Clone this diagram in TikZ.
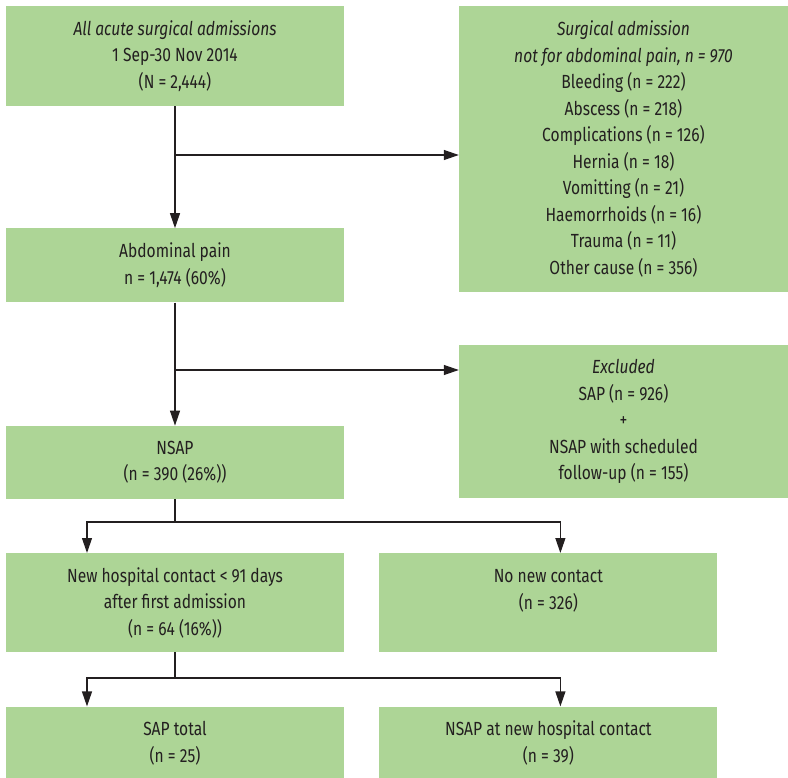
\documentclass[tikz,border=0pt]{standalone}
\usepackage{fontspec}
\setmainfont{Fira Sans}[FakeStretch=0.82]
\usetikzlibrary{positioning,arrows.meta}
\definecolor{boxgreen}{RGB}{173,213,150}
\definecolor{inkgray}{RGB}{35,31,32}

\begin{document}
\begin{tikzpicture}[x=1pt, y=1pt,
  box/.style={fill=boxgreen, inner sep=0pt, minimum width=338pt, align=center, text=inkgray,
    font=\fontsize{19}{26.5}\selectfont},
  sidebox/.style={box, minimum width=329pt},
  flow/.style={draw=inkgray, line width=1.2pt},
  arrow/.style={flow, -{Triangle[length=15pt, width=10pt]}}
]
\useasboundingbox (0,0) rectangle (788,-778);

\node[box, minimum height=100pt] (start) at (175,-56)
  {\textit{All acute surgical admissions}\\1 Sep-30 Nov 2014\\(N = 2,444)};
\node[sidebox, minimum height=286pt] (reasons) at (623.5,-149)
  {\textit{Surgical admission}\\\textit{not for abdominal pain, n = 970}\\Bleeding (n = 222)\\Abscess (n = 218)\\
   Complications (n = 126)\\Hernia (n = 18)\\Vomitting (n = 21)\\Haemorrhoids (n = 16)\\Trauma (n = 11)\\Other cause (n = 356)};
\node[box, minimum height=74pt, below=122pt of start] (abdo) {Abdominal pain\\n = 1,474 (60\%)};
\node[sidebox, minimum height=153pt] (excluded) at (623.5,-421.5)
  {\textit{Excluded}\\SAP (n = 926)\\+\\NSAP with scheduled\\follow-up (n = 155)};
\node[box, minimum height=73pt, below=123pt of abdo] (nsap) {NSAP\\(n = 390 (26\%))};
\node[box, minimum height=99pt, below=54pt of nsap] (newcontact)
  {New hospital contact < 91 days\\after first admission\\(n = 64 (16\%))};
\node[box, minimum height=99pt, right=35pt of newcontact] (nocontact) {No new contact\\(n = 326)\\\mbox{}};
\node[box, minimum height=73pt, below=54pt of newcontact] (saptotal) {SAP total\\(n = 25)};
\node[box, minimum height=73pt, right=35pt of saptotal] (nsapnew) {NSAP at new hospital contact\\(n = 39)};

\coordinate (split1) at (175,-155);
\coordinate (split2) at (175,-370);
\coordinate (fork1) at (175,-522);
\coordinate (fork2) at (175,-678);

\draw[arrow] (start) -- (abdo);
\draw[arrow] (split1) -- (split1 -| reasons.west);
\draw[arrow] (abdo) -- (nsap);
\draw[arrow] (split2) -- (split2 -| excluded.west);

\draw[flow] (nsap.south) -- (fork1);
\draw[arrow] (fork1) -| ([xshift=-88pt]newcontact.north);
\draw[arrow] (fork1) -| ([xshift=12pt]nocontact.north);
\draw[flow] (newcontact.south) -- (fork2);
\draw[arrow] (fork2) -| ([xshift=-88pt]saptotal.north);
\draw[arrow] (fork2) -| ([xshift=12pt]nsapnew.north);
\end{tikzpicture}
\end{document}
